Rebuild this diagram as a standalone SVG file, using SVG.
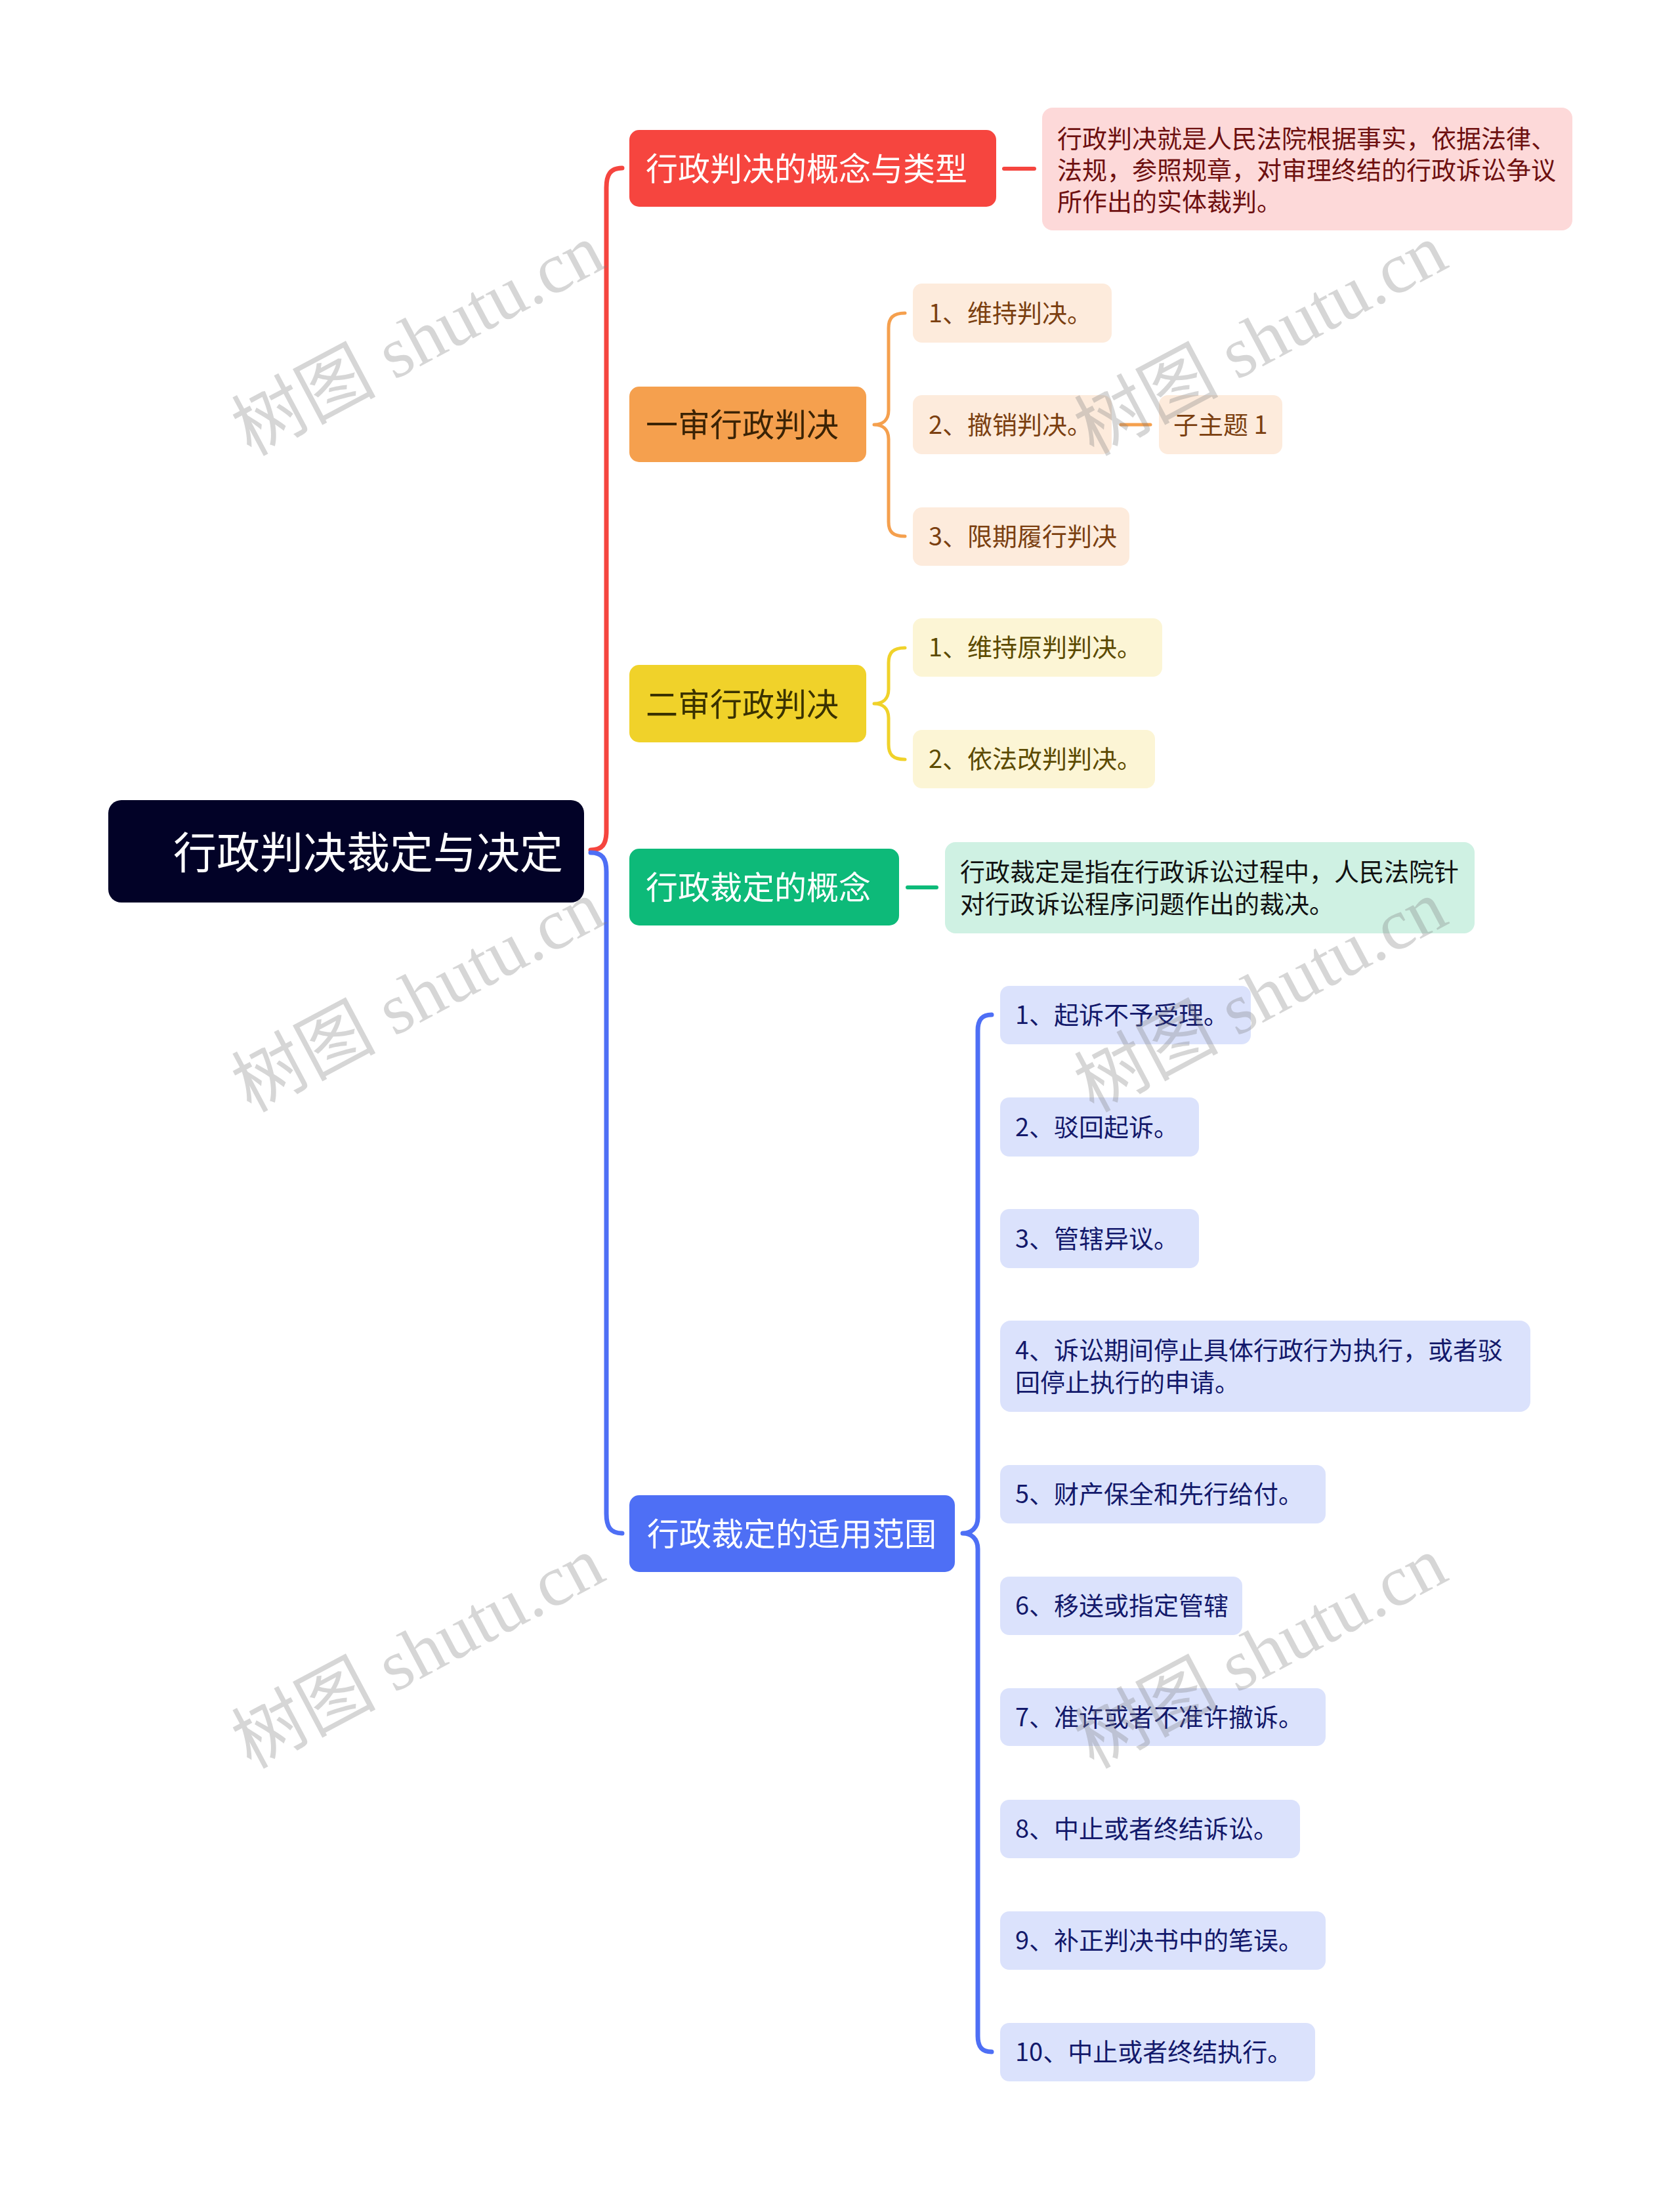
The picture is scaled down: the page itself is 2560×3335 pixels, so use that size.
<svg xmlns="http://www.w3.org/2000/svg" width="2560" height="3335" viewBox="0 0 2560 3335">
<style>
text{font-family:"Noto Sans CJK SC","Noto Sans",sans-serif;dominant-baseline:central}
.t1{font-size:49px}
.t2{font-size:38px}
.wm{font-family:"Liberation Serif","Noto Sans CJK SC",serif;font-size:110px;fill:#7f7f7f;fill-opacity:0.32;text-anchor:middle}
.ln{fill:none;stroke-linecap:round;stroke-linejoin:round}
</style>
<rect width="2560" height="3335" fill="#ffffff"/>
<g id="connectors">
<path class="ln" stroke="#f5453f" stroke-width="7" d="M 900 1295 C 918 1295 924 1286 924 1266 L 924 286 C 924 266 930 256 948 256"/>
<path class="ln" stroke="#4e6ff5" stroke-width="7" d="M 900 1299 C 918 1299 924 1308 924 1328 L 924 2306 C 924 2326 930 2336 948 2336"/>
<line class="ln" stroke="#f5453f" stroke-width="6" x1="1530" y1="257" x2="1576" y2="257"/>
<path class="ln" stroke="#f5a04e" stroke-width="5" d="M 1379 477 C 1360 477 1354 485 1354 500 L 1354 625 C 1354 640 1345 647 1332 647 C 1345 647 1354 654 1354 669 L 1354 795 C 1354 810 1360 817 1379 817"/>
<line class="ln" stroke="#f5a04e" stroke-width="5" x1="1708" y1="647" x2="1753" y2="647"/>
<path class="ln" stroke="#f0d22a" stroke-width="5" d="M 1379 987 C 1360 987 1354 995 1354 1010 L 1354 1050 C 1354 1065 1345 1072 1332 1072 C 1345 1072 1354 1079 1354 1094 L 1354 1134 C 1354 1149 1360 1157 1379 1157"/>
<line class="ln" stroke="#0dba79" stroke-width="6" x1="1383" y1="1352" x2="1427" y2="1352"/>
<path class="ln" stroke="#4e6ff5" stroke-width="7" d="M 1511 1546 C 1495 1546 1490 1555 1490 1570 L 1490 2312 C 1490 2328 1480 2336 1467 2336 C 1480 2336 1490 2344 1490 2360 L 1490 3102 C 1490 3117 1495 3126 1511 3126"/>
</g>
<g id="root">
<rect x="165" y="1219" width="725" height="156" rx="20" fill="#020227"/>
<text x="264" y="1294" font-size="66" fill="#ffffff">行政判决裁定与决定</text>
</g>
<g id="n-red">
<rect x="959" y="198" width="559" height="117" rx="15" fill="#f6453f"/>
<text class="t1" x="984" y="253.5" fill="#ffffff">行政判决的概念与类型</text>
</g>
<g id="n-red-note">
<rect x="1588" y="164" width="808" height="187" rx="16" fill="#fdd9d9"/>
<text class="t2" fill="#6e1010"><tspan x="1611" y="208">行政判决就是人民法院根据事实，依据法律、</tspan><tspan x="1611" y="256">法规，参照规章，对审理终结的行政诉讼争议</tspan><tspan x="1611" y="304">所作出的实体裁判。</tspan></text>
</g>
<g id="n-orange">
<rect x="959" y="589" width="361" height="115" rx="15" fill="#f5a04e"/>
<text class="t1" x="984" y="643.5" fill="#3b2305">一审行政判决</text>
</g>
<g id="n-o1">
<rect x="1391" y="432" width="303" height="90" rx="14" fill="#fdebdc"/>
<text class="t2" x="1415" y="474" fill="#7b3f10">1、维持判决。</text>
</g>
<g id="n-o2">
<rect x="1391" y="602" width="303" height="90" rx="14" fill="#fdebdc"/>
<text class="t2" x="1415" y="644" fill="#7b3f10">2、撤销判决。</text>
</g>
<g id="n-o2a">
<rect x="1766" y="602" width="188" height="90" rx="14" fill="#fdebdc"/>
<text class="t2" x="1788" y="644" fill="#7b3f10">子主题 1</text>
</g>
<g id="n-o3">
<rect x="1391" y="773" width="330" height="89" rx="14" fill="#fdebdc"/>
<text class="t2" x="1415" y="814.5" fill="#7b3f10">3、限期履行判决</text>
</g>
<g id="n-yellow">
<rect x="959" y="1013" width="361" height="118" rx="15" fill="#f0d22a"/>
<text class="t1" x="984" y="1069" fill="#3a3200">二审行政判决</text>
</g>
<g id="n-y1">
<rect x="1391" y="942" width="380" height="89" rx="14" fill="#fcf5d5"/>
<text class="t2" x="1415" y="983.5" fill="#5c4a00">1、维持原判判决。</text>
</g>
<g id="n-y2">
<rect x="1391" y="1112" width="369" height="89" rx="14" fill="#fcf5d5"/>
<text class="t2" x="1415" y="1153.5" fill="#5c4a00">2、依法改判判决。</text>
</g>
<g id="n-green">
<rect x="959" y="1293" width="411" height="117" rx="15" fill="#0dba79"/>
<text class="t1" x="984" y="1348.5" fill="#ffffff">行政裁定的概念</text>
</g>
<g id="n-green-note">
<rect x="1440" y="1283" width="807" height="139" rx="16" fill="#cff1e3"/>
<text class="t2" fill="#111111"><tspan x="1463" y="1325">行政裁定是指在行政诉讼过程中，人民法院针</tspan><tspan x="1463" y="1374">对行政诉讼程序问题作出的裁决。</tspan></text>
</g>
<g id="n-blue">
<rect x="959" y="2278" width="496" height="117" rx="15" fill="#4e6ff5"/>
<text class="t1" x="986" y="2333.5" fill="#ffffff">行政裁定的适用范围</text>
</g>
<g id="n-b1">
<rect x="1524" y="1502" width="382" height="89" rx="14" fill="#dbe2fc"/>
<text class="t2" x="1547" y="1543.5" fill="#13196b">1、起诉不予受理。</text>
</g>
<g id="n-b2">
<rect x="1524" y="1672" width="303" height="90" rx="14" fill="#dbe2fc"/>
<text class="t2" x="1547" y="1714" fill="#13196b">2、驳回起诉。</text>
</g>
<g id="n-b3">
<rect x="1524" y="1842" width="303" height="90" rx="14" fill="#dbe2fc"/>
<text class="t2" x="1547" y="1884" fill="#13196b">3、管辖异议。</text>
</g>
<g id="n-b4">
<rect x="1524" y="2012" width="808" height="139" rx="16" fill="#dbe2fc"/>
<text class="t2" fill="#13196b"><tspan x="1547" y="2054">4、诉讼期间停止具体行政行为执行，或者驳</tspan><tspan x="1547" y="2103">回停止执行的申请。</tspan></text>
</g>
<g id="n-b5">
<rect x="1524" y="2232" width="496" height="89" rx="14" fill="#dbe2fc"/>
<text class="t2" x="1547" y="2273.5" fill="#13196b">5、财产保全和先行给付。</text>
</g>
<g id="n-b6">
<rect x="1524" y="2402" width="369" height="89" rx="14" fill="#dbe2fc"/>
<text class="t2" x="1547" y="2443.5" fill="#13196b">6、移送或指定管辖</text>
</g>
<g id="n-b7">
<rect x="1524" y="2572" width="496" height="88" rx="14" fill="#dbe2fc"/>
<text class="t2" x="1547" y="2613" fill="#13196b">7、准许或者不准许撤诉。</text>
</g>
<g id="n-b8">
<rect x="1524" y="2742" width="457" height="89" rx="14" fill="#dbe2fc"/>
<text class="t2" x="1547" y="2783.5" fill="#13196b">8、中止或者终结诉讼。</text>
</g>
<g id="n-b9">
<rect x="1524" y="2912" width="496" height="89" rx="14" fill="#dbe2fc"/>
<text class="t2" x="1547" y="2953.5" fill="#13196b">9、补正判决书中的笔误。</text>
</g>
<g id="n-b10">
<rect x="1524" y="3082" width="480" height="89" rx="14" fill="#dbe2fc"/>
<text class="t2" x="1547" y="3123.5" fill="#13196b">10、中止或者终结执行。</text>
</g>
<g id="watermarks">
<text class="wm" transform="translate(637 518) rotate(-28)" y="0">树图 shutu.cn</text>
<text class="wm" transform="translate(637 1518) rotate(-28)" y="0">树图 shutu.cn</text>
<text class="wm" transform="translate(637 2518) rotate(-28)" y="0">树图 shutu.cn</text>
<text class="wm" transform="translate(1921 518) rotate(-28)" y="0">树图 shutu.cn</text>
<text class="wm" transform="translate(1921 1518) rotate(-28)" y="0">树图 shutu.cn</text>
<text class="wm" transform="translate(1921 2518) rotate(-28)" y="0">树图 shutu.cn</text>
</g>
</svg>
